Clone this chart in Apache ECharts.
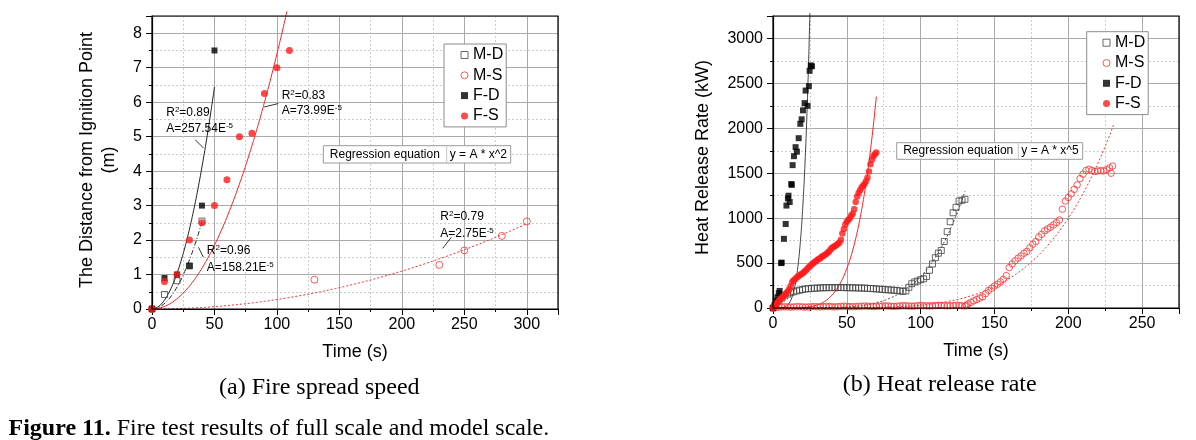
<!DOCTYPE html>
<html><head><meta charset="utf-8">
<script src="https://cdn.jsdelivr.net/npm/echarts@6/dist/echarts.min.js"></script>
<style>html,body{margin:0;padding:0;background:#fff}#c{width:1196px;height:440px}</style>
</head><body><div id="c"></div>
<script>
// ================= DATA =================
const legendNames = ['M-D', 'M-S', 'F-D', 'F-S'];
const xTitle = 'Time (s)';
const yTitleA = ['The Distance from Ignition Point', '(m)'];
const yTitleB = 'Heat Release Rate (kW)';
const captionA = '(a) Fire spread speed';
const captionB = '(b) Heat release rate';
const figLabel = 'Figure 11.';
const figText = ' Fire test results of full scale and model scale.';
const regLabel = 'Regression equation';
const regEqA = 'y = A * x^2';
const regEqB = 'y = A * x^5';

// (a) fire spread: distance (m) vs time (s)
const aMDTime = [0, 10, 20, 30, 40];
const aMDDist = [0, 0.42, 0.82, 1.25, 2.55];
const aMSTime = [0, 130, 230, 250, 280, 300];
const aMSDist = [0, 0.85, 1.28, 1.70, 2.12, 2.54];
const aFDTime = [0, 10, 20, 30, 40, 50];
const aFDDist = [0, 0.90, 1.0, 1.25, 3.0, 7.5];
const aFSTime = [0, 10, 20, 30, 40, 50, 60, 70, 80, 90, 100, 110];
const aFSDist = [0, 0.80, 1.0, 2.0, 2.5, 3.0, 3.75, 5.0, 5.1, 6.25, 7.0, 7.5];
// regression y = A*x^2 : [M-D, M-S, F-D, F-S]
const aFitA = [158.21e-5, 2.75e-5, 257.54e-5, 73.99e-5];
const aFitEnd = [40, 300, 50, 108];
const aFitR2 = ['0.96', '0.79', '0.89', '0.83'];
const aFitAText = ['158.21', '2.75', '257.54', '73.99'];

// (b) heat release rate (kW) vs time (s), [t, kW]
const bMD = [[0,0],[2,40],[4,80],[6,110],[8,135],[10,155],[12,170],[14,180],[16,190],[18,198],[20,205],[22,212],[24,215],[26,218],[28,220],[30,222],[32,224],[34,225],[36,226],[38,227],[40,227],[42,226],[44,227],[46,228],[48,227],[50,226],[52,226],[54,225],[56,224],[58,223],[60,222],[62,221],[64,219],[66,217],[68,215],[70,212],[72,210],[74,207],[76,205],[78,202],[80,200],[82,198],[84,195],[86,190],[88,185],[90,190],[92,230],[94,270],[96,290],[98,300],[100,315],[102,325],[104,350],[106,420],[108,490],[110,560],[112,610],[114,640],[116,740],[118,850],[120,960],[122,1060],[124,1120],[126,1190],[128,1200],[130,1210]];
const bMS = [[0,0],[2,6],[4,10],[6,12],[8,14],[10,12],[12,10],[14,12],[16,15],[18,14],[20,12],[22,10],[24,12],[26,14],[28,16],[30,14],[32,12],[34,15],[36,18],[38,16],[40,14],[42,12],[44,15],[46,18],[48,20],[50,18],[52,15],[54,14],[56,16],[58,18],[60,20],[62,22],[64,20],[66,18],[68,16],[70,18],[72,20],[74,22],[76,24],[78,22],[80,20],[82,18],[84,20],[86,22],[88,25],[90,24],[92,22],[94,20],[96,22],[98,25],[100,28],[102,26],[104,24],[106,22],[108,25],[110,28],[112,30],[114,28],[116,26],[118,24],[120,26],[122,28],[124,30],[126,28],[128,25],[130,22],[131,30],[132,45],[134,62],[136,80],[138,95],[140,110],[142,125],[144,160],[146,195],[148,220],[150,245],[152,265],[154,290],[156,320],[158,360],[160,450],[162,490],[164,525],[166,555],[168,580],[170,610],[172,630],[174,670],[176,710],[178,740],[180,790],[182,820],[184,860],[186,880],[188,900],[190,925],[192,950],[194,980],[196,1100],[198,1190],[200,1230],[202,1270],[204,1320],[206,1370],[208,1440],[210,1490],[212,1530],[214,1545],[216,1530],[218,1520],[220,1525],[222,1530],[224,1525],[226,1540],[228,1560],[229,1500],[230,1580]];
const bFD = [[0,0],[1,30],[2,80],[3,120],[3.9,165],[4.5,190],[5.5,500],[5.9,505],[7.4,770],[8.6,935],[9.1,1140],[10.1,1220],[10.5,1250],[11.3,1180],[12.4,1380],[12.7,1370],[13.3,1590],[14.2,1690],[15.3,1790],[16.2,1740],[17.4,1890],[18.5,2050],[19.4,2100],[20.3,2200],[21.4,2280],[22.1,2420],[23.4,2250],[24.3,2470],[24.8,2640],[25.6,2700],[26.4,2690]];
const bFS = [[0,0],[1,20],[2,40],[3,60],[4,80],[5,100],[6,115],[7,130],[8,150],[9,165],[10,185],[11,210],[12,245],[13,290],[14,310],[15,320],[16,340],[17,350],[18,365],[19,375],[20,385],[21,400],[22,415],[23,430],[24,450],[25,465],[26,480],[27,495],[28,510],[29,520],[30,535],[31,545],[32,555],[33,570],[34,580],[35,590],[36,600],[37,615],[38,630],[39,650],[40,670],[41,680],[42,690],[43,700],[44,715],[45,730],[46,760],[47,830],[48,880],[49,930],[50,960],[51,980],[52,1000],[53,1030],[54,1050],[55,1100],[56,1180],[57,1240],[58,1280],[59,1310],[60,1340],[61,1360],[62,1380],[63,1410],[64,1450],[65,1520],[66,1600],[67,1650],[68,1690],[69,1710],[70,1730]];
// regression y = A*x^5 (A estimated from the drawn curves): [M-D, M-S, F-D, F-S]
const bFitA = [3.5e-8, 3.12e-9, 3.36e-4, 1.4e-6];
const bFitEnd = [130, 231, 25, 70];

// ================= STYLE / LAYOUT =================
const FONT = '"Liberation Sans", Arial, sans-serif';
const SERIF = '"Liberation Serif", "Times New Roman", serif';
const RED = '#ff1a1a';
const G = [
  {left: 152, top: 16, width: 406, height: 293},
  {left: 773, top: 16, width: 406, height: 292}
];
const AX = [{xmax: 325, ymax: 8.5, yint: 1}, {xmax: 275, ymax: 3250, yint: 500}];
const pairs = (xs, ys) => xs.map((x, i) => [x, ys[i]]);
function fitCurve(A, p, xmax) {
  const out = [];
  for (let i = 0; i <= 200; i++) { const x = xmax * i / 200; out.push([x, A * Math.pow(x, p)]); }
  return out;
}
const numFmt = v => String(v);
const MAJOR = {show: true, lineStyle: {color: '#a9a9a9', width: 1, type: 'solid', opacity: 1}};
const MINOR = {show: true, lineStyle: {color: '#cccccc', width: 1, type: [2, 2], opacity: 1}};

function mainX(gi, max) {
  return {type: 'value', gridIndex: gi, min: 0, max: max, interval: 50, position: 'bottom', z: 0,
    name: xTitle, nameLocation: 'middle', nameGap: 34,
    nameTextStyle: {fontSize: 18, color: '#000', fontFamily: FONT},
    axisLine: {show: true, onZero: false, lineStyle: {color: '#000', width: 1.2}},
    axisTick: {show: true, inside: false, length: 6, lineStyle: {color: '#000'}},
    minorTick: {show: true, splitNumber: 2, length: 3, lineStyle: {color: '#000'}},
    axisLabel: {fontSize: 16, color: '#000', fontFamily: FONT, margin: 8, showMaxLabel: false, formatter: numFmt},
    splitLine: MAJOR, minorSplitLine: MINOR};
}
function mainY(gi, max, interval) {
  return {type: 'value', gridIndex: gi, min: 0, max: max, interval: interval, position: 'left', z: 0,
    axisLine: {show: true, onZero: false, lineStyle: {color: '#000', width: 1.2}},
    axisTick: {show: true, inside: false, length: 6, lineStyle: {color: '#000'}},
    minorTick: {show: true, splitNumber: 2, length: 3, lineStyle: {color: '#000'}},
    axisLabel: {fontSize: 16, color: '#000', fontFamily: FONT, margin: 10, showMaxLabel: false, formatter: numFmt},
    splitLine: MAJOR, minorSplitLine: MINOR};
}

const markerStyles = {
  'M-D': {symbol: 'rect', itemStyle: {color: 'rgba(0,0,0,0)', borderColor: '#444', borderWidth: 1}},
  'M-S': {symbol: 'circle', itemStyle: {color: 'rgba(0,0,0,0)', borderColor: '#ff3030', borderWidth: 1}},
  'F-D': {symbol: 'rect', itemStyle: {color: '#000'}},
  'F-S': {symbol: 'circle', itemStyle: {color: RED}}
};
const aSizes = {'M-D': 6, 'M-S': 7, 'F-D': 6, 'F-S': 7};
const bSizes = {'M-D': 6, 'M-S': 6.5, 'F-D': 6, 'F-S': 6.5};
const aFitStyle = [
  {color: '#222', width: 1, type: [5, 2, 1, 2]},
  {color: '#ff3030', width: 1, type: [2, 2]},
  {color: '#222', width: 1, type: 'solid'},
  {color: '#ff2020', width: 1, type: 'solid'}
];
const bFitStyle = [
  {color: '#333', width: 0.9, type: [2, 2]},
  {color: '#ff3030', width: 1, type: [2, 2]},
  {color: '#444', width: 1, type: 'solid'},
  {color: '#ff2020', width: 1, type: 'solid'}
];
const aArrows = [
  [[41.2, 1.50], [37.2, 1.79]],
  [[239.6, 2.08], [232.7, 1.76]],
  [[34.6, 4.91], [41.2, 4.67]],
  [[101.1, 5.96], [89.7, 5.86]]
];
const aNotePos = [
  [43.9, 1.69, 1.19],
  [230.8, 2.68, 2.18],
  [11.4, 5.69, 5.23],
  [103.8, 6.19, 5.76]
];

const series = [];
legendNames.forEach((n, i) => {
  series.push({type: 'line', name: 'fitA' + i, xAxisIndex: 0, yAxisIndex: 0, showSymbol: false, symbol: 'none',
    clip: false, silent: true, z: 1, lineStyle: aFitStyle[i],
    data: fitCurve(aFitA[i], 2, aFitEnd[i]),
    markLine: {silent: true, symbol: ['none', 'arrow'], symbolSize: [0, 7], label: {show: false},
      lineStyle: {color: '#000', width: 0.8, type: 'solid'},
      data: [[{coord: aArrows[i][0]}, {coord: aArrows[i][1]}]]}});
  series.push({type: 'line', name: 'fitB' + i, xAxisIndex: 1, yAxisIndex: 1, showSymbol: false, symbol: 'none',
    clip: false, silent: true, z: 1, lineStyle: bFitStyle[i], data: fitCurve(bFitA[i], 5, bFitEnd[i])});
});
const aData = {'M-D': pairs(aMDTime, aMDDist), 'M-S': pairs(aMSTime, aMSDist), 'F-D': pairs(aFDTime, aFDDist), 'F-S': pairs(aFSTime, aFSDist)};
const bData = {'M-D': bMD, 'M-S': bMS, 'F-D': bFD, 'F-S': bFS};
legendNames.forEach(n => {
  series.push(Object.assign({type: 'scatter', name: n, xAxisIndex: 0, yAxisIndex: 0, symbolSize: aSizes[n], z: 3, data: aData[n]}, markerStyles[n]));
});
legendNames.forEach(n => {
  series.push(Object.assign({type: 'scatter', name: n, xAxisIndex: 1, yAxisIndex: 1, symbolSize: bSizes[n], z: 3, data: bData[n]}, markerStyles[n]));
});

const legendItems = legendNames.map(n => ({name: n, icon: markerStyles[n].symbol,
  itemStyle: n[0] === 'M' ? {color: '#fff', borderColor: markerStyles[n].itemStyle.borderColor, borderWidth: 1} : {color: markerStyles[n].itemStyle.color, borderWidth: 0}}));
function legendCfg(left, top, padLeft, gap) {
  return {data: legendItems, orient: 'vertical', left: left, top: top, padding: [3, 3, 3, padLeft],
    itemGap: 4.3, itemWidth: 7, itemHeight: 7, itemTextGap: gap, selectedMode: false,
    backgroundColor: '#fff', borderColor: '#8c8c8c', borderWidth: 1,
    textStyle: {fontSize: 16, color: '#000', fontFamily: FONT}};
}

const option = {
  animation: false,
  backgroundColor: '#fff',
  grid: G.map(g => Object.assign({show: false, containLabel: false}, g)),
  xAxis: [mainX(0, AX[0].xmax), mainX(1, AX[1].xmax)],
  yAxis: [mainY(0, AX[0].ymax, AX[0].yint), mainY(1, AX[1].ymax, AX[1].yint)],
  legend: [legendCfg(444, 44, 16.5, 18.5), legendCfg(1086.7, 31.7, 15.8, 19.2)],
  series: series
};

const chart = echarts.init(document.getElementById('c'), null, {renderer: 'canvas'});
chart.setOption(option);

// ================= TEXT / GRAPHICS =================
const gfx = [];
[0, 1].forEach(gi => {
  const p0 = chart.convertToPixel({gridIndex: gi}, [0, AX[gi].ymax]);
  const p1 = chart.convertToPixel({gridIndex: gi}, [AX[gi].xmax, 0]);
  gfx.push({type: 'rect', z: 10, silent: true, shape: {x: p0[0], y: p0[1], width: p1[0] - p0[0], height: p1[1] - p0[1]},
    style: {fill: 'none', stroke: '#000', lineWidth: 1.2}});
});
const txt = (x, y, text, o) => gfx.push({type: 'text', x: x, y: y, z: 20,
  style: Object.assign({text: text, fontSize: 12, fontFamily: FONT, fill: '#000', align: 'left', verticalAlign: 'middle'}, o || {})});
const supRich = {s: {fontSize: 8, verticalAlign: 'top', fontFamily: FONT, fill: '#000'}, n: {fontSize: 12, fontFamily: FONT, fill: '#000', lineHeight: 14}};
aNotePos.forEach((p, i) => {
  const p1 = chart.convertToPixel({gridIndex: 0}, [p[0], p[1]]);
  const p2 = chart.convertToPixel({gridIndex: 0}, [p[0], p[2]]);
  txt(p1[0], p1[1], '{n|R}{s|2}{n|=' + aFitR2[i] + '}', {rich: supRich});
  txt(p2[0], p2[1], '{n|A=' + aFitAText[i] + 'E}{s|-5}', {rich: supRich});
});
function regBox(x, y, w, h, div, eq) {
  gfx.push({type: 'group', x: x, y: y, z: 15, children: [
    {type: 'rect', shape: {x: 0, y: 0, width: w, height: h}, style: {fill: '#fff', stroke: '#9a9a9a', lineWidth: 1}},
    {type: 'line', shape: {x1: div, y1: 0, x2: div, y2: h}, style: {stroke: '#c8c8c8', lineWidth: 1}},
    {type: 'text', x: 6.5, y: h / 2, style: {text: regLabel, fontSize: 12, fontFamily: FONT, fill: '#000', verticalAlign: 'middle'}},
    {type: 'text', x: div + 3, y: h / 2, style: {text: eq, fontSize: 12, fontFamily: FONT, fill: '#000', verticalAlign: 'middle'}}
  ]});
}
regBox(323.3, 145.7, 187.4, 17.3, 123.4, regEqA);
regBox(896.7, 142.7, 186, 16.6, 121.6, regEqB);
gfx.push({type: 'text', x: 86.7, y: 160, rotation: Math.PI / 2, z: 20,
  style: {text: yTitleA[0], fontSize: 18, fontFamily: FONT, fill: '#000', align: 'center', verticalAlign: 'middle'}});
gfx.push({type: 'text', x: 109, y: 160, rotation: Math.PI / 2, z: 20,
  style: {text: yTitleA[1], fontSize: 18, fontFamily: FONT, fill: '#000', align: 'center', verticalAlign: 'middle'}});
gfx.push({type: 'text', x: 703.3, y: 157.5, rotation: Math.PI / 2, z: 20,
  style: {text: yTitleB, fontSize: 18, fontFamily: FONT, fill: '#000', align: 'center', verticalAlign: 'middle'}});
gfx.push({type: 'text', x: 319.3, y: 388, z: 20,
  style: {text: captionA, fontSize: 24, fontFamily: SERIF, fill: '#000', align: 'center', verticalAlign: 'middle'}});
gfx.push({type: 'text', x: 939.7, y: 384.5, z: 20,
  style: {text: captionB, fontSize: 24, fontFamily: SERIF, fill: '#000', align: 'center', verticalAlign: 'middle'}});
gfx.push({type: 'text', x: 8.5, y: 428.5, z: 20,
  style: {text: '{b|' + figLabel + '}{r|' + figText + '}', fontSize: 24, fontFamily: SERIF, fill: '#000', align: 'left', verticalAlign: 'middle',
    rich: {b: {fontSize: 24, fontFamily: SERIF, fontWeight: 'bold', fill: '#000'}, r: {fontSize: 24, fontFamily: SERIF, fill: '#000'}}}});

chart.setOption({graphic: gfx});
</script>
</body></html>
